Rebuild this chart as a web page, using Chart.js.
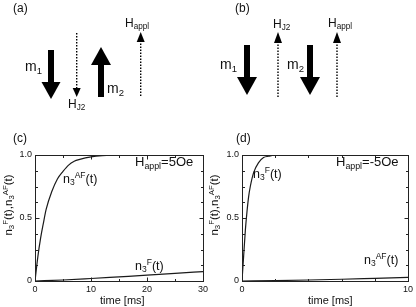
<!DOCTYPE html>
<html>
<head>
<meta charset="utf-8">
<script src="https://cdn.jsdelivr.net/npm/chart.js@4.4.0/dist/chart.umd.min.js"></script>
<style>
html, body { margin: 0; padding: 0; background: #fff; }
body { width: 416px; height: 307px; position: relative; overflow: hidden;
       font-family: "Liberation Sans", Arial, sans-serif; color: #111; }
canvas, svg { position: absolute; left: 0; top: 0; }
.t { position: absolute; white-space: nowrap; line-height: 1; transform: translateY(-50%); }
.t sub { font-size: 0.68em; vertical-align: -0.28em; }
.t sup { font-size: 0.68em; vertical-align: 0.5em; }
.rot { transform: translate(-50%, -50%) rotate(-90deg); }
</style>
</head>
<body>
<canvas id="plotC" width="416" height="307"></canvas>
<canvas id="plotD" width="416" height="307"></canvas>

<svg width="416" height="307" viewBox="0 0 416 307">
  <g fill="#000" stroke="none">
    <!-- (a) m1 down, m2 up -->
    <rect x="48" y="50" width="6" height="33"/>
    <polygon points="41.5,82 60.5,82 51,99"/>
    <rect x="98" y="64" width="6" height="33"/>
    <polygon points="91,65 111,65 101,47"/>
    <!-- (b) m1 down, m2 down -->
    <rect x="244" y="45" width="6" height="33"/>
    <polygon points="237,77 257,77 247,95"/>
    <rect x="307" y="45" width="6" height="33"/>
    <polygon points="300,77 320,77 310,95"/>
  </g>
  <g stroke="#000" stroke-width="1.4" stroke-dasharray="1.5,1.5" fill="none">
    <line x1="76.7" y1="33" x2="76.7" y2="89"/>
    <line x1="140.7" y1="96" x2="140.7" y2="41"/>
    <line x1="278" y1="97" x2="278" y2="41"/>
    <line x1="337" y1="97" x2="337" y2="41"/>
  </g>
  <g fill="#000">
    <polygon points="72.7,88 80.7,88 76.7,97"/>
    <polygon points="136.7,42 144.7,42 140.7,32"/>
    <polygon points="274,43 282,43 278,32"/>
    <polygon points="333,43 341,43 337,32"/>
  </g>
</svg>

<div class="t" style="left:13px;top:8px;font-size:12px;">(a)</div>
<div class="t" style="left:235px;top:8px;font-size:12px;">(b)</div>
<div class="t" style="left:13px;top:138px;font-size:12px;">(c)</div>
<div class="t" style="left:236px;top:138px;font-size:12px;">(d)</div>

<div class="t" style="left:25px;top:67px;font-size:14px;">m<sub>1</sub></div>
<div class="t" style="left:68px;top:105px;font-size:12px;">H<sub>J2</sub></div>
<div class="t" style="left:107px;top:89px;font-size:14px;">m<sub>2</sub></div>
<div class="t" style="left:125px;top:24px;font-size:12px;">H<sub>appl</sub></div>

<div class="t" style="left:220px;top:65px;font-size:14px;">m<sub>1</sub></div>
<div class="t" style="left:273px;top:25px;font-size:12px;">H<sub>J2</sub></div>
<div class="t" style="left:287px;top:65px;font-size:14px;">m<sub>2</sub></div>
<div class="t" style="left:328px;top:24px;font-size:12px;">H<sub>appl</sub></div>

<div class="t" style="left:135px;top:163px;font-size:13px;">H<sub>appl</sub>=5Oe</div>
<div class="t" style="left:63px;top:179px;font-size:12.5px;">n<sub>3</sub><sup>AF</sup>(t)</div>
<div class="t" style="left:135px;top:266px;font-size:12.5px;">n<sub>3</sub><sup>F</sup>(t)</div>
<div class="t rot" style="left:9px;top:205px;font-size:11.5px;">n<sub>3</sub><sup>F</sup>(t),n<sub>3</sub><sup>AF</sup>(t)</div>
<div class="t rot" style="left:215px;top:205px;font-size:11.5px;">n<sub>3</sub><sup>F</sup>(t),n<sub>3</sub><sup>AF</sup>(t)</div>
<div class="t" style="left:100px;top:300px;font-size:11px;">time [ms]</div>

<div class="t" style="left:336px;top:163px;font-size:13px;">H<sub>appl</sub>=-5Oe</div>
<div class="t" style="left:253px;top:174px;font-size:12.5px;">n<sub>3</sub><sup>F</sup>(t)</div>
<div class="t" style="left:364px;top:260px;font-size:12.5px;">n<sub>3</sub><sup>AF</sup>(t)</div>
<div class="t" style="left:308px;top:300px;font-size:11px;">time [ms]</div>

<script>
// (c) Happl = 5 Oe
const cTimeAF = [0, 0.5, 1, 1.5, 2, 3, 4, 5, 6, 7, 8, 10, 12, 15, 30];
const cAF     = [0, 0.19, 0.34, 0.46, 0.57, 0.71, 0.81, 0.87, 0.92, 0.95, 0.965, 0.985, 0.995, 1.0, 1.0];
const cTimeF  = [0, 5, 10, 15, 20, 25, 30];
const cF      = [0, 0.008, 0.02, 0.033, 0.046, 0.06, 0.075];

// (d) Happl = -5 Oe
const dTimeF  = [0, 0.1, 0.2, 0.3, 0.4, 0.5, 0.7, 1.0, 1.3, 1.6, 2.0, 10];
const dF      = [0, 0.2, 0.4, 0.55, 0.67, 0.75, 0.86, 0.94, 0.98, 0.99, 1.0, 1.0];
const dTimeAF = [0, 2, 4, 6, 8, 10];
const dAF     = [0, 0.003, 0.008, 0.014, 0.021, 0.028];

// tick labels
const yLabels  = [0, 0.5, 1];
const cXLabels = [0, 10, 20, 30];
const dXLabels = [0, 10];

const FONT = '"Liberation Sans", Arial, sans-serif';

// box round the plot with short inward ticks on all four sides
const boxTicks = {
    id: 'boxTicks',
    afterDraw(chart) {
        const { ctx, chartArea: a, scales: { x, y } } = chart;
        const L = Math.round(a.left) + 0.5, R = Math.round(a.right) + 0.5;
        const T = Math.round(a.top) + 0.5, B = Math.round(a.bottom) + 0.5;
        ctx.save();
        ctx.strokeStyle = '#222';
        ctx.lineWidth = 1;
        ctx.strokeRect(L, T, R - L, B - T);
        ctx.beginPath();
        x.ticks.forEach(t => {
            const px = Math.round(x.getPixelForValue(t.value)) + 0.5;
            const len = t.label !== '' ? 4 : 2.5;
            ctx.moveTo(px, B); ctx.lineTo(px, B - len);
            ctx.moveTo(px, T); ctx.lineTo(px, T + len);
        });
        y.ticks.forEach(t => {
            const py = Math.round(y.getPixelForValue(t.value)) + 0.5;
            const len = t.label !== '' ? 4 : 2.5;
            ctx.moveTo(L, py); ctx.lineTo(L + len, py);
            ctx.moveTo(R, py); ctx.lineTo(R - len, py);
        });
        ctx.stroke();
        ctx.restore();
    }
};

function toPoints(xs, ys) {
    return xs.map((v, i) => ({ x: v, y: ys[i] }));
}

function makePlot(id, pad, yWidth, xMax, xStep, xLabels, series) {
    return new Chart(document.getElementById(id), {
        type: 'scatter',
        data: {
            datasets: series.map(s => ({
                data: toPoints(s[0], s[1]),
                showLine: true,
                borderColor: '#1a1a1a',
                borderWidth: 1.2,
                pointRadius: 0,
                cubicInterpolationMode: 'monotone'
            }))
        },
        options: {
            responsive: false,
            animation: false,
            devicePixelRatio: 1,
            layout: { padding: pad },
            plugins: { legend: { display: false }, tooltip: { enabled: false } },
            scales: {
                x: {
                    type: 'linear', min: 0, max: xMax,
                    ticks: {
                        stepSize: xStep, autoSkip: false, maxRotation: 0, padding: 3,
                        color: '#111', font: { size: 9, family: FONT },
                        callback: v => xLabels.includes(v) ? String(v) : ''
                    },
                    grid: { display: false, drawTicks: false },
                    border: { display: false },
                    afterFit: s => { s.height = 26; }
                },
                y: {
                    type: 'linear', min: 0, max: 1,
                    ticks: {
                        stepSize: 0.125, autoSkip: false, padding: 3,
                        color: '#111', font: { size: 9, family: FONT },
                        callback: v => yLabels.includes(v) ? (v === 1 ? '1.0' : String(v)) : ''
                    },
                    grid: { display: false, drawTicks: false },
                    border: { display: false },
                    afterFit: s => { s.width = yWidth; }
                }
            }
        },
        plugins: [boxTicks]
    });
}

makePlot('plotC', { left: 0, top: 155, right: 213, bottom: 0 }, 35, 30, 5, cXLabels,
    [[cTimeAF, cAF], [cTimeF, cF]]);
makePlot('plotD', { left: 208, top: 155, right: 5, bottom: 0 }, 34, 10, 2, dXLabels,
    [[dTimeF, dF], [dTimeAF, dAF]]);
</script>
</body>
</html>
